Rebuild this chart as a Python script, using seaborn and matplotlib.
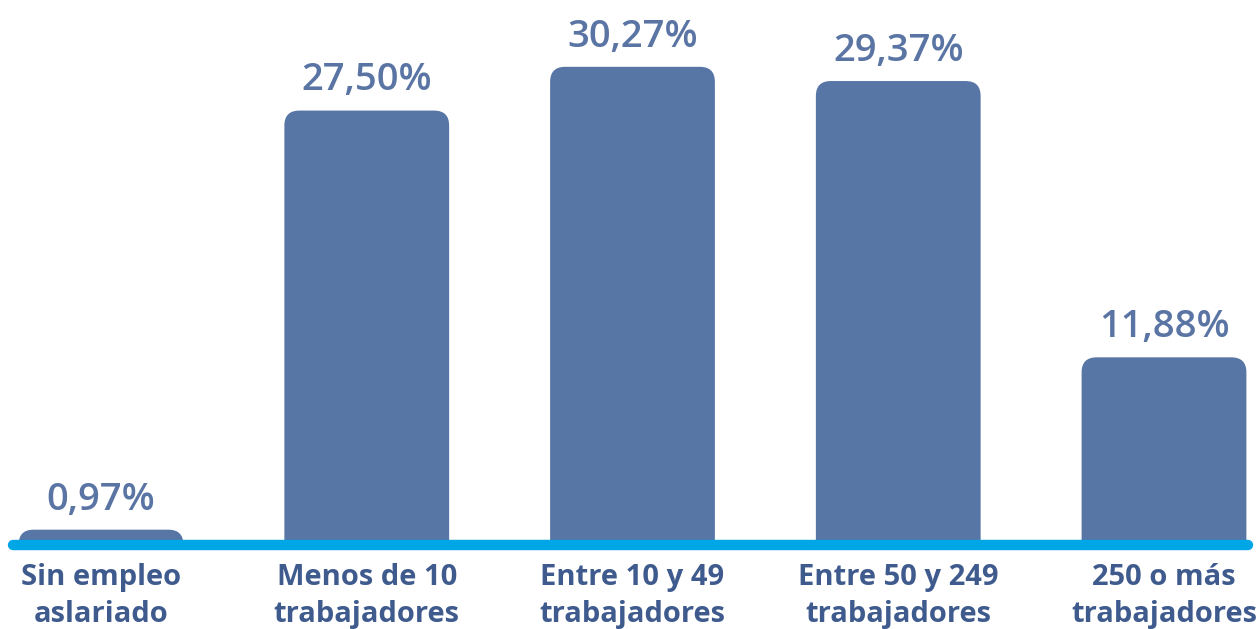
import matplotlib
matplotlib.use("Agg")
import matplotlib.pyplot as plt
import seaborn as sns
import pandas as pd
from matplotlib.patches import FancyBboxPatch
from matplotlib.lines import Line2D

categories = ["Sin empleo\naslariado", "Menos de 10\ntrabajadores", "Entre 10 y 49\ntrabajadores",
              "Entre 50 y 249\ntrabajadores", "250 o más\ntrabajadores"]
values = [0.97, 27.50, 30.27, 29.37, 11.88]
value_labels = ["0,97%", "27,50%", "30,27%", "29,37%", "11,88%"]

bar_color = "#5775a5"
label_color = "#5a75a4"
tick_color = "#3f5b8e"
base_color = "#00a6e6"

sns.set_style("white")
plt.rcParams['font.family'] = ['Open Sans', 'DejaVu Sans']

W, H = 1257, 629
fig = plt.figure(figsize=(W / 100, H / 100), dpi=100)
base_px = 545
ax = fig.add_axes([0, (H - base_px) / H, 1, base_px / H])

df = pd.DataFrame({"cat": categories, "val": values})
sns.barplot(data=df, x="cat", y="val", color=bar_color, width=0.62, ax=ax, saturation=1)

px_per_x = 265.75
x0 = -101 / px_per_x
x1 = 4 + (W - 1164) / px_per_x
ymax = 34.5
ax.set_xlim(x0, x1)
ax.set_ylim(0, ymax)
px_per_y = base_px / ymax
aspect = px_per_x / px_per_y

radius_px = 15
for p in list(ax.patches):
    x, w, h = p.get_x(), p.get_width(), p.get_height()
    p.remove()
    fb = FancyBboxPatch((x, -3), w, h + 3,
                        boxstyle=f"round,pad=0,rounding_size={radius_px / px_per_x}",
                        mutation_aspect=aspect, facecolor=bar_color, edgecolor="none",
                        clip_on=True, zorder=2)
    ax.add_patch(fb)

for i, (v, lab) in enumerate(zip(values, value_labels)):
    ax.annotate(lab, (i, v), xytext=(0, 8), textcoords="offset points",
                ha="center", va="bottom", fontsize=27.5, fontweight=600, color=label_color)

ax.add_line(Line2D([x0 + 13 / px_per_x, x1 - 9 / px_per_x], [0, 0], color=base_color,
                   lw=7.5, solid_capstyle="round", clip_on=False, zorder=3))

for s in ax.spines.values():
    s.set_visible(False)
ax.set_yticks([])
ax.set_xlabel("")
ax.set_ylabel("")
ax.tick_params(axis="x", length=0, pad=13)
ax.set_xticks(range(len(categories)))
ax.set_xticklabels(categories, fontsize=21, fontweight="bold", color=tick_color,
                   linespacing=1.38, va="top")

fig.savefig("out.png", dpi=100)
